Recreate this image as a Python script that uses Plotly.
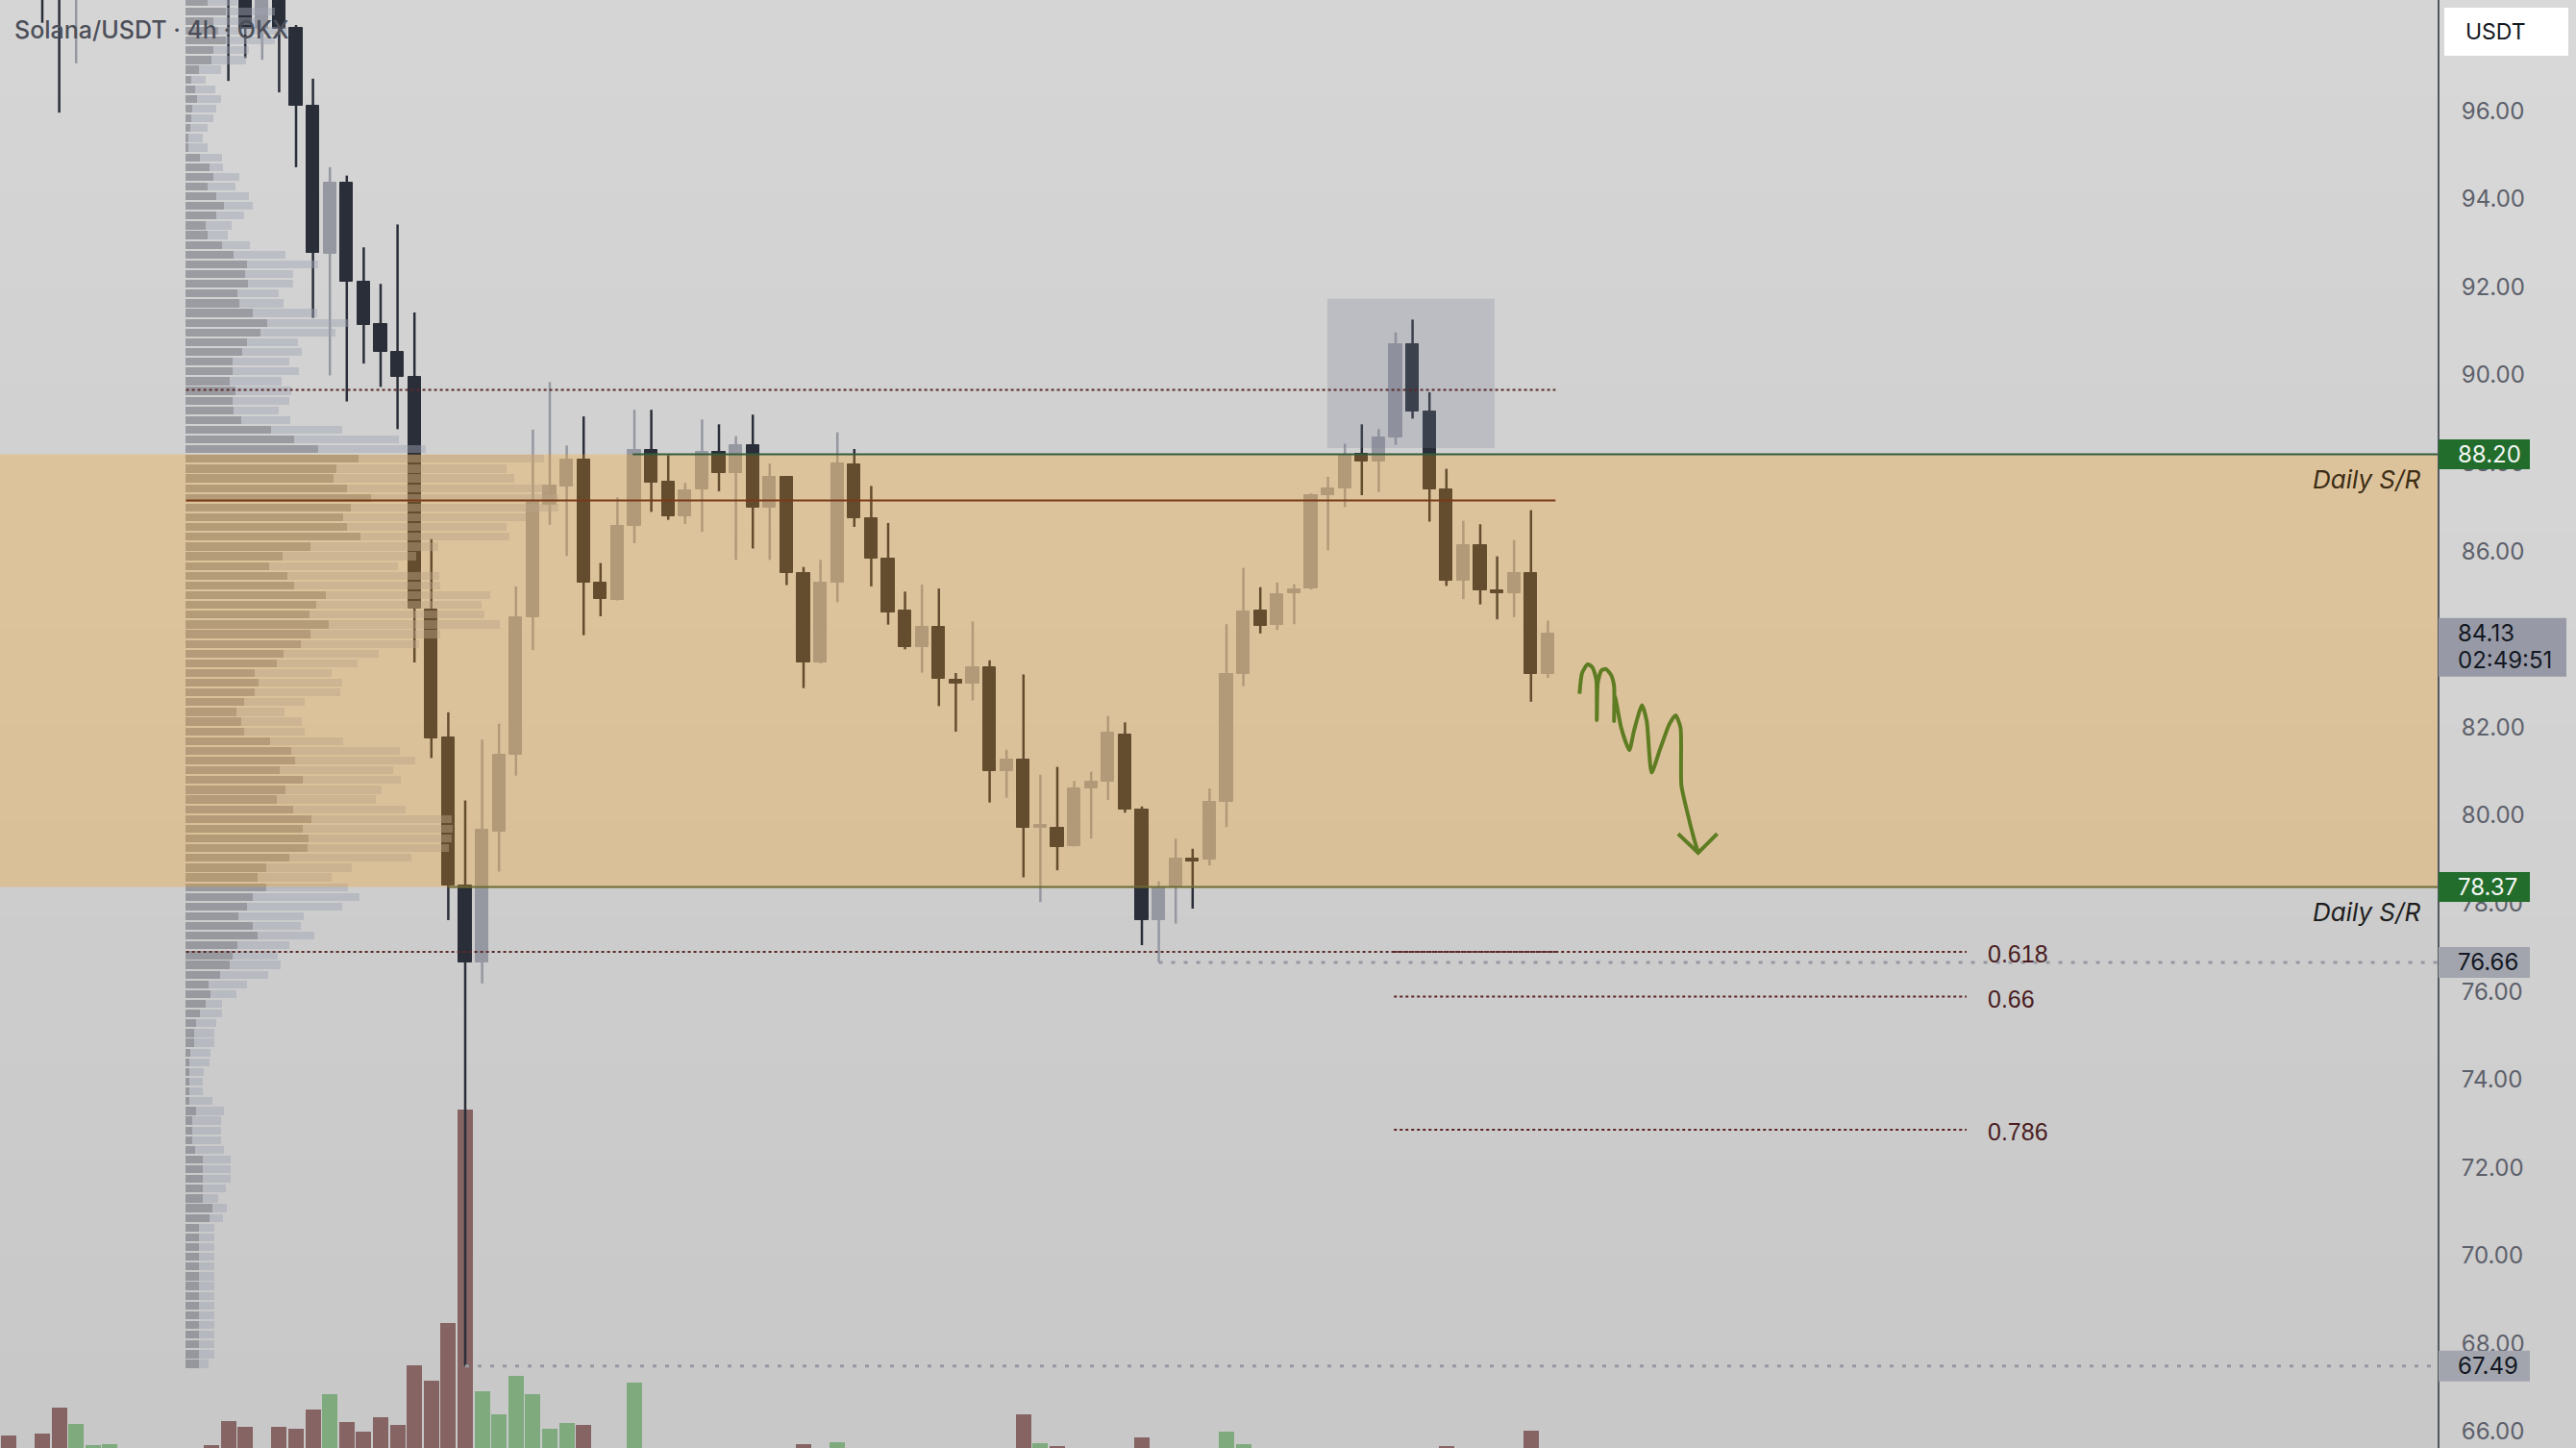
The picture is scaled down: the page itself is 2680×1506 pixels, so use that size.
import plotly.graph_objects as go

# ---------------- data ----------------
# bar number counted from the left edge of the window; bars 0-2 and 11-14
# have their bodies above the top of the price scale (only wicks show)
candle_idx = [0, 1, 2, 11, 12, 13, 14] + list(range(15, 90))
opens = [100.8, 99.6, 98.9, 100.4, 99.6, 97.86, 99.1,
         97.88, 96.12, 92.76, 94.36, 92.12, 91.15, 90.52, 89.96, 84.67, 81.76,
         78.40, 76.66, 79.62, 81.38, 84.50, 87.05, 87.46, 88.09, 85.28, 84.90,
         86.57, 88.29, 87.57, 86.80, 87.41, 88.25, 87.77, 88.40, 86.98, 87.68,
         85.51, 83.48, 85.28, 87.96, 86.75, 85.83, 84.65, 83.83, 84.29, 83.07,
         82.98, 83.36, 81.00, 81.26, 79.72, 79.72, 79.31, 80.62, 80.76, 81.84,
         80.12, 77.61, 78.37, 79.02, 79.00, 80.30, 83.20, 84.66, 84.32, 85.05,
         85.15, 87.27, 87.42, 88.20, 88.04, 88.58, 90.71, 89.17, 87.40, 85.33,
         86.14, 85.12, 85.05, 85.50, 83.20]
highs = [101.2, 100.2, 100.6, 100.9, 100.0, 99.5, 99.4,
         97.95, 96.73, 94.72, 94.53, 92.90, 92.07, 93.42, 91.42, 86.28, 82.34,
         80.34, 81.72, 82.08, 85.20, 88.76, 89.84, 88.40, 89.06, 85.73, 87.22,
         89.21, 89.21, 88.18, 87.55, 88.99, 88.88, 88.61, 89.10, 87.99, 87.70,
         85.64, 85.80, 88.70, 88.32, 87.48, 86.64, 85.08, 85.24, 85.15, 83.23,
         84.40, 83.52, 81.49, 83.20, 80.92, 81.10, 80.78, 80.99, 82.26, 82.11,
         80.20, 78.50, 79.47, 79.24, 80.61, 84.34, 85.62, 85.18, 85.29, 85.25,
         87.31, 87.69, 88.44, 88.88, 88.77, 90.97, 91.26, 89.61, 87.87, 86.69,
         86.61, 85.88, 86.25, 86.93, 84.42]
lows = [98.0, 95.96, 97.08, 96.68, 97.2, 97.16, 96.42,
        94.72, 91.30, 89.99, 89.40, 90.26, 89.73, 88.77, 83.47, 81.30, 77.62,
        67.49, 76.18, 78.72, 80.90, 83.75, 86.60, 85.89, 84.09, 84.52, 84.88,
        86.18, 86.89, 86.71, 86.62, 86.44, 87.36, 85.80, 86.06, 85.80, 85.23,
        82.89, 83.45, 84.84, 86.55, 85.20, 84.33, 83.77, 83.24, 82.48, 81.90,
        82.61, 80.29, 80.40, 78.59, 78.03, 78.75, 79.29, 79.47, 80.35, 80.06,
        77.05, 76.66, 77.54, 77.88, 78.86, 79.73, 82.93, 84.13, 84.21, 84.34,
        85.13, 86.02, 87.00, 87.27, 87.34, 88.41, 89.01, 86.67, 85.21, 84.91,
        84.79, 84.45, 84.50, 82.58, 83.12]
closes = [99.6, 98.9, 100.1, 99.2, 97.86, 99.1, 97.86,
          96.12, 92.78, 94.36, 92.12, 91.13, 90.52, 89.95, 84.69, 81.74, 78.41,
          76.66, 79.67, 81.38, 84.50, 87.12, 87.48, 88.09, 85.28, 84.92, 86.57,
          88.29, 87.56, 86.80, 87.39, 88.25, 87.77, 88.40, 86.98, 87.68, 85.51,
          83.48, 85.28, 87.99, 86.75, 85.83, 84.61, 83.83, 84.29, 83.09, 82.98,
          83.36, 81.00, 81.26, 79.72, 79.76, 79.27, 80.60, 80.76, 81.87, 80.12,
          77.61, 78.37, 79.02, 78.94, 80.30, 83.20, 84.63, 84.30, 85.03, 85.13,
          87.27, 87.42, 88.18, 88.04, 88.58, 90.71, 89.17, 87.40, 85.33, 86.14,
          85.12, 85.05, 85.50, 83.20, 84.13]

# volume pane (only the tops of the bars are inside the window)
vol_idx = [-2, 0, 1, 2, 3, 4, 10, 11, 12, 14, 15, 16, 17, 18, 19, 20, 21, 22, 23, 24,
           25, 26, 27, 28, 29, 30, 31, 32, 35, 45, 47, 58, 59, 60, 65, 70, 71, 83, 88]
volume = [13, 15, 42, 25, 3, 4, 3, 28, 22, 22, 20, 40, 56, 27, 17, 32, 24, 86, 70, 130,
          352, 59, 35, 75, 56, 20, 26, 24, 68, 4, 6, 35, 5, 2, 11, 17, 4, 2, 18]
vol_up = [0, 0, 0, 1, 1, 1, 0, 0, 0, 0, 0, 0, 1, 0, 0, 0, 0, 0, 0, 0,
          0, 1, 1, 1, 1, 1, 1, 0, 1, 0, 1, 0, 1, 0, 0, 1, 1, 0, 0]

# visible-range volume profile, rows from the bottom (67.54) upward
vp_bottom, vp_step = 67.54, 0.221
vp_dark = [14, 14, 14, 14, 14, 14, 14, 14, 14, 14,
           14, 14, 14, 14, 14, 25, 28, 18, 18, 18,
           18, 18, 10, 7, 7, 7, 11, 4, 4, 4,
           4, 4, 5, 9, 9, 11, 15, 21, 26, 24,
           36, 46, 49, 54, 75, 70, 55, 64, 70, 84,
           75, 84, 108, 127, 128, 122, 131, 112, 95, 104,
           122, 98, 114, 110, 88, 61, 58, 53, 61, 72,
           76, 72, 95, 102, 120, 130, 149, 129, 136, 146,
           113, 106, 87, 101, 130, 182, 168, 164, 172, 193,
           168, 154, 157, 180, 138, 113, 89, 58, 50, 49,
           52, 46, 49, 49, 59, 64, 78, 85, 70, 56,
           54, 65, 62, 64, 50, 38, 23, 21, 32, 40,
           32, 23, 29, 25, 15, 3, 3, 5, 6, 7,
           12, 10, 6, 14, 27, 29, 42, 34, 29, 42, 23]
vp_light = [10, 16, 16, 16, 16, 16, 16, 16, 16, 16,
            16, 16, 16, 16, 16, 14, 15, 16, 24, 29,
            29, 29, 30, 30, 30, 30, 29, 24, 14, 14,
            15, 21, 21, 21, 21, 21, 23, 17, 27, 40,
            50, 53, 47, 54, 59, 50, 68, 99, 111, 85,
            77, 89, 127, 147, 149, 156, 146, 117, 103, 100,
            102, 118, 125, 113, 76, 63, 63, 50, 63, 89,
            87, 80, 84, 99, 123, 135, 178, 182, 172, 171,
            152, 158, 134, 139, 133, 155, 166, 190, 216, 195,
            210, 188, 177, 193, 112, 109, 74, 51, 47, 59,
            58, 54, 69, 59, 62, 53, 78, 85, 67, 46,
            43, 47, 50, 74, 54, 29, 21, 27, 29, 30,
            34, 29, 27, 14, 23, 20, 15, 18, 23, 25,
            25, 21, 15, 23, 36, 37, 51, 72, 45, 51, 31]
row_prices = [round(vp_bottom + vp_step * k, 3) for k in range(len(vp_dark))]

# levels
zone_top, zone_bottom = 88.20, 78.37
zone_top_from, zone_bottom_from = 34.9, 24.0
poc, vah, val = 87.15, 89.66, 76.90
profile_from, profile_to = 8.5, 89.45
fib_levels = ["0.618", "0.66", "0.786"]
fib_prices = [76.90, 75.88, 72.86]
fib_from, fib_to = 79.9, 113.75
price_lines = [76.66, 67.49]
price_lines_from = [66.0, 25.0]
last_price, countdown = 84.13, "02:49:51"
box_x = [75.96, 85.85]
box_y = [88.34, 91.73]

# hand-drawn projection
sq_x = [90.87, 91.02, 91.35, 91.63, 91.86, 91.89, 91.95, 92.16, 92.43, 92.73, 92.91, 92.91,
        92.95, 93.33, 93.81, 94.09, 94.56, 94.84, 95.13, 95.61, 96.18, 96.55, 96.84, 96.89,
        97.22, 97.60, 97.88]
sq_y = [82.76, 83.23, 83.43, 83.36, 83.08, 82.16, 83.01, 83.29, 83.32, 83.19, 82.94, 82.14,
        82.72, 81.99, 81.48, 81.92, 82.50, 82.14, 80.97, 81.48, 82.07, 82.27, 81.99, 80.68,
        80.10, 79.52, 79.15]
arrow_x = [96.70, 97.88, 99.01]
arrow_y = [79.58, 79.15, 79.58]

# ---------------- styling ----------------
FONT = "Inter, Roboto, 'Noto Sans', sans-serif"
BEAR, BULL = "#2a2e39", "#9598a1"
VOL_DN, VOL_UP = "#866464", "#7eaa7e"
VP_DARK, VP_LIGHT = "rgba(110,112,122,0.55)", "rgba(160,165,180,0.45)"
ZONE = "rgba(255,160,20,0.275)"
SQ = "#227029"

W, H, R = 2536, 1506, 144          # plot area and price-scale width, px
X_RANGE = [-44 / 17.6, (W - 44) / 17.6]
Y_RANGE = [65.629, 98.518]


def px(x):
    return x / W


def py(y):
    return 1 - y / H


fig = go.Figure()

# volume (main subplot, underneath everything)
fig.add_trace(go.Bar(
    x=vol_idx, y=volume, width=0.9, xaxis="x", yaxis="y",
    marker=dict(color=[VOL_UP if u else VOL_DN for u in vol_up], line_width=0),
    hoverinfo="skip"))

# candles: wicks then bodies
for up, color in ((True, BULL), (False, BEAR)):
    xs, ys = [], []
    for i, o, h, l, c in zip(candle_idx, opens, highs, lows, closes):
        if (c >= o) == up:
            xs += [i, i, None]
            ys += [l, h, None]
    fig.add_trace(go.Scatter(x=xs, y=ys, mode="lines", xaxis="x", yaxis="y2",
                             line=dict(color=color, width=2.5), hoverinfo="skip"))

body_col = [BULL if c >= o else BEAR for o, c in zip(opens, closes)]
fig.add_trace(go.Bar(
    x=candle_idx, base=[min(o, c) for o, c in zip(opens, closes)],
    y=[max(abs(c - o), 0.05) for o, c in zip(opens, closes)],
    width=0.76, xaxis="x", yaxis="y2",
    marker=dict(color=body_col, line=dict(color=body_col, width=1)),
    hoverinfo="skip"))

fig.add_trace(go.Scatter(x=sq_x, y=sq_y, mode="lines", xaxis="x", yaxis="y2",
                         line=dict(color=SQ, width=4, shape="spline", smoothing=0.6),
                         hoverinfo="skip"))
fig.add_trace(go.Scatter(x=arrow_x, y=arrow_y, mode="lines", xaxis="x", yaxis="y2",
                         line=dict(color=SQ, width=4), hoverinfo="skip"))

# volume profile on its own overlaid x axis (1 unit = 1 px)
fig.add_trace(go.Bar(y=row_prices, x=vp_dark, base=0, orientation="h", width=0.18,
                     marker=dict(color=VP_DARK, line_width=0),
                     xaxis="x2", yaxis="y2", hoverinfo="skip"))
fig.add_trace(go.Bar(y=row_prices, x=vp_light, base=vp_dark, orientation="h", width=0.18,
                     marker=dict(color=VP_LIGHT, line_width=0),
                     xaxis="x2", yaxis="y2", hoverinfo="skip"))

shapes = []
# soft vertical gradient of the pane background
n = 30
for s in range(n):
    g = round(213 - 13 * s / (n - 1))
    shapes.append(dict(type="rect", xref="paper", yref="paper", layer="below",
                       x0=0, x1=px(W + R), y0=py(H * (s + 1) / n), y1=py(H * s / n),
                       fillcolor=f"rgb({g},{g},{g})", line_width=0))
shapes.append(dict(type="rect", xref="paper", yref="paper", layer="below",
                   x0=1, x1=px(W + R), y0=0, y1=1,
                   fillcolor="rgba(255,255,255,0.09)", line_width=0))

shapes.append(dict(type="rect", xref="x", yref="y2", layer="above",
                   x0=box_x[0], x1=box_x[1], y0=box_y[0], y1=box_y[1],
                   fillcolor="rgba(120,125,145,0.24)", line_width=0))
shapes.append(dict(type="rect", xref="paper", yref="y2", layer="above",
                   x0=0, x1=1, y0=zone_bottom, y1=zone_top,
                   fillcolor=ZONE, line_width=0))


def hline(y, x0, x1, color, width, dash="solid"):
    return dict(type="line", xref="x", yref="y2", layer="above", x0=x0, x1=x1, y0=y, y1=y,
                line=dict(color=color, width=width, dash=dash))


shapes.append(hline(zone_top, zone_top_from, X_RANGE[1], "#355c3c", 2))
shapes.append(hline(zone_bottom, zone_bottom_from, X_RANGE[1], "#6f6a33", 2))
shapes.append(hline(poc, profile_from, profile_to, "#7a3a18", 2))
shapes.append(hline(vah, profile_from, profile_to, "#5a2a2a", 2, "dot"))
shapes.append(hline(val, profile_from, profile_to, "#5a2a2a", 2, "dot"))
for fp in fib_prices:
    shapes.append(hline(fp, fib_from, fib_to, "#5c2323", 2, "dot"))
for p, x0 in zip(price_lines, price_lines_from):
    shapes.append(hline(p, x0, X_RANGE[1], "#9598a1", 3, "4px,9px"))

annotations = []

# price-scale tags
tags = [(zone_top, f"{zone_top:.2f}", "#226c2c", "#f2f6f2", 2632, 15.5, 15.5),
        (zone_bottom, f"{zone_bottom:.2f}", "#226c2c", "#f2f6f2", 2632, 15.5, 15.5),
        (last_price, f"{last_price:.2f}", "#979aa6", "#131722", 2670, 16, 45),
        (price_lines[0], f"{price_lines[0]:.2f}", "#a2a5ae", "#131722", 2632, 16, 16),
        (price_lines[1], f"{price_lines[1]:.2f}", "#a2a5ae", "#131722", 2632, 16, 16)]
for p, txt, bg, fg, xr, up, dn in tags:
    shapes.append(dict(type="rect", xref="paper", yref="y2", ysizemode="pixel", yanchor=p,
                       x0=px(W + 1), x1=px(xr), y0=-dn, y1=up,
                       fillcolor=bg, line_width=0, layer="above"))
    annotations.append(dict(x=px(2555), y=p, xref="paper", yref="y2", xanchor="left",
                            yanchor="middle", text=txt, showarrow=False,
                            font=dict(family=FONT, size=24, color=fg)))
annotations.append(dict(x=px(2555), y=last_price, xref="paper", yref="y2", xanchor="left",
                        yanchor="middle", yshift=-28, text=countdown, showarrow=False,
                        font=dict(family=FONT, size=24, color="#131722")))

# currency box
shapes.append(dict(type="rect", xref="paper", yref="paper", layer="above",
                   x0=px(2543), x1=px(2672), y0=py(58), y1=py(8),
                   fillcolor="#ffffff", line_width=0))
annotations.append(dict(x=px(2563), y=py(33), xref="paper", yref="paper", xanchor="left",
                        yanchor="middle", text="USDT", showarrow=False,
                        font=dict(family=FONT, size=23, color="#131722")))

# title
annotations.append(dict(x=px(13), y=py(31), xref="paper", yref="paper", xanchor="left",
                        yanchor="middle", text="Solana/USDT · 4h · OKX", showarrow=False,
                        font=dict(family=FONT, size=25, color="#4c4f59", weight=500)))

# zone labels
for p, col in ((zone_top, "#3c2d14"), (zone_bottom, "#1e1e1e")):
    annotations.append(dict(x=px(2520), y=p, xref="paper", yref="y2", xanchor="right",
                            yanchor="middle", yshift=-26, text="Daily S/R", showarrow=False,
                            font=dict(family=FONT, size=26, color=col, style="italic")))

# fib labels
for lvl, fp in zip(fib_levels, fib_prices):
    annotations.append(dict(x=px(2066), y=fp, xref="paper", yref="y2", xanchor="left",
                            yanchor="middle", yshift=-2, text=lvl, showarrow=False,
                            font=dict(family="'Liberation Sans', Arial, sans-serif",
                                      size=25, color="#4a1d22")))

fig.update_layout(
    width=W + R, height=H,
    margin=dict(l=0, r=R, t=0, b=0),
    paper_bgcolor="#d0d0d0", plot_bgcolor="rgba(0,0,0,0)",
    showlegend=False, barmode="overlay", bargap=0,
    xaxis=dict(range=X_RANGE, visible=False, fixedrange=True),
    xaxis2=dict(range=[-193.3, W - 193.3], overlaying="x", visible=False),
    yaxis=dict(range=[0, H], visible=False),
    yaxis2=dict(range=Y_RANGE, overlaying="y", side="right", anchor="x",
                dtick=2, tick0=0, tickformat=".2f", ticks="", ticklabelstandoff=18,
                showgrid=False, zeroline=False, showline=True,
                linecolor="#55585f", linewidth=2,
                tickfont=dict(family=FONT, size=24, color="#5d606b")),
    shapes=shapes, annotations=annotations,
)

# the page's default body margin would push the chart 8 px off the corner
fig.write_html("out.html", config={"displayModeBar": False},
               post_script="document.body.style.margin='0';"
                           "document.body.style.overflow='hidden';")
